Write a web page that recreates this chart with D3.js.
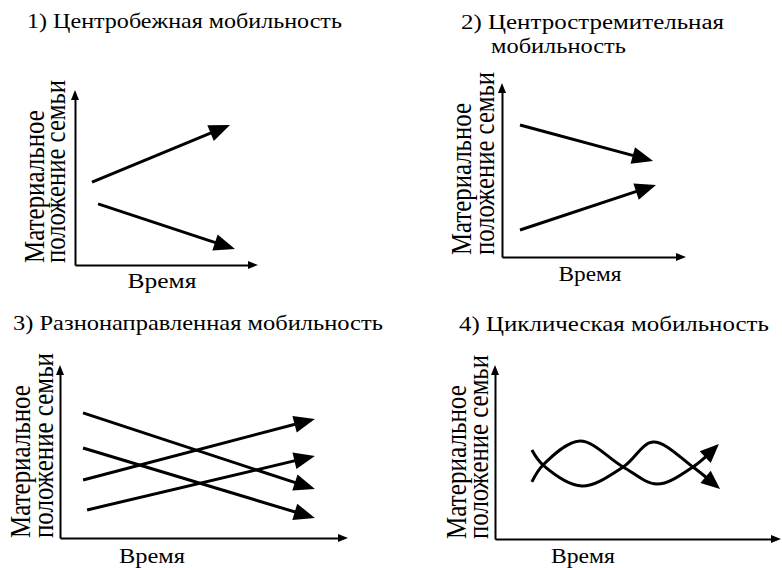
<!DOCTYPE html>
<html><head><meta charset="utf-8">
<script src="https://cdn.jsdelivr.net/npm/d3@7"></script>
<style>body{margin:0;background:#fff}</style>
</head><body>
<svg id="c" width="782" height="568" style="display:block"></svg>
<script>
// ---------- data ----------
const titleLines1 = ["1) Центробежная мобильность"];
const titleLines2 = ["2) Центростремительная", "мобильность"];
const titleLines3 = ["3) Разнонаправленная мобильность"];
const titleLines4 = ["4) Циклическая мобильность"];
const yLabelLines = ["Материальное", "положение семьи"];
const xLabelText = "Время";

// arrows: start/end values in axis units (0..10)
const centrifugal = [
  {x:[0.93, 8.47], y:[4.74, 8.00]},
  {x:[1.26, 8.74], y:[3.49, 0.91]}
];
const centripetal = [
  {x:[0.98, 8.21], y:[7.59, 5.52]},
  {x:[0.98, 8.37], y:[1.55, 4.14]}
];
const multidirectional = [
  {x:[0.80, 8.85], y:[7.23, 2.83]},
  {x:[0.80, 8.85], y:[5.20, 1.16]},
  {x:[0.80, 8.85], y:[3.35, 6.88]},
  {x:[0.94, 8.85], y:[1.62, 4.74]}
];
const cyclicA = {x:[1.29, 1.68, 2.97, 4.48, 5.66, 6.92, 7.83], y:[3.28, 4.25, 5.63, 4.14, 3.16, 4.14, 5.46]};
const cyclicB = {x:[1.29, 1.68, 3.04, 4.48, 5.52, 6.92, 7.87], y:[5.11, 4.25, 3.05, 4.14, 5.57, 4.14, 2.87]};

// ---------- layout ----------
const panels = [
  {box:{x0:75, x1:258, y0:265, y1:90}, title:{lines:titleLines1, pos:[[27,28]], len:[315]},
   ylab:{x:[44,65], y:263, len:[153,183]}, xlab:{x:162, y:288, len:69},
   arrows:centrifugal, curves:[], head:{L:21, W:17}},
  {box:{x0:502, x1:686, y0:257, y1:83}, title:{lines:titleLines2, pos:[[461,29],[491,53]], len:[263,135]},
   ylab:{x:[471,494], y:255, len:[152,183]}, xlab:{x:590, y:281, len:63},
   arrows:centripetal, curves:[], head:{L:21, W:17}},
  {box:{x0:60, x1:348, y0:538, y1:365}, title:{lines:titleLines3, pos:[[13,330]], len:[370]},
   ylab:{x:[30,53], y:538, len:[153,185]}, xlab:{x:152, y:563, len:66},
   arrows:multidirectional, curves:[], head:{L:21, W:17}},
  {box:{x0:495, x1:781, y0:539, y1:365}, title:{lines:titleLines4, pos:[[459,331]], len:[310]},
   ylab:{x:[466,488], y:539, len:[154,184]}, xlab:{x:583, y:563, len:64},
   arrows:[], curves:[cyclicA, cyclicB], head:{L:19, W:16}}
];

const svg = d3.select("#c");

function head(g, tip, dir, L, W){
  const ux = dir[0], uy = dir[1];
  const nx = -uy, ny = ux;
  const bx = tip[0] - ux*L, by = tip[1] - uy*L;
  g.append("path")
    .attr("d", `M${tip[0]},${tip[1]}L${bx + nx*W/2},${by + ny*W/2}L${bx - nx*W/2},${by - ny*W/2}Z`)
    .attr("fill", "#000");
}

// text placed at (x,y) with optional rotation, scaled along its direction to a target length
function fitText(g, str, x, y, size, target, rot){
  const t = g.append("text")
    .style("font-family", '"Liberation Serif"')
    .attr("font-size", size)
    .attr("fill", "#000")
    .text(str);
  const w = t.node().getComputedTextLength();
  const k = w > 0 ? target / w : 1;
  t.attr("transform", `translate(${x},${y})${rot ? " rotate(" + rot + ")" : ""} scale(${k},1)`);
  return t;
}

panels.forEach(p => {
  const g = svg.append("g");
  const b = p.box;
  const x = d3.scaleLinear().domain([0,10]).range([b.x0, b.x1]);
  const y = d3.scaleLinear().domain([0,10]).range([b.y0, b.y1]);
  const axL = 10, axW = 8;

  // titles
  p.title.lines.forEach((t,i) => fitText(g, t, p.title.pos[i][0], p.title.pos[i][1], 20, p.title.len[i], 0));

  // y label (rotated, two lines)
  yLabelLines.forEach((t,i) => fitText(g, t, p.ylab.x[i], p.ylab.y, 29, p.ylab.len[i], -90));

  // x label
  fitText(g, xLabelText, p.xlab.x - p.xlab.len/2, p.xlab.y, 20, p.xlab.len, 0);

  // axes (d3 axis generators, no ticks)
  const xa = x.copy().range([b.x0, b.x1 - 5]);
  const ya = y.copy().range([b.y0, b.y1 + 5]);
  g.append("g").attr("transform", `translate(0,${b.y0})`)
    .call(d3.axisBottom(xa).tickValues([]).tickSizeOuter(0));
  g.append("g").attr("transform", `translate(${b.x0},0)`)
    .call(d3.axisLeft(ya).tickValues([]).tickSizeOuter(0));
  g.selectAll(".domain").attr("stroke", "#000").attr("stroke-width", 2);
  head(g, [x(10), y(0)], [1,0], axL, axW);
  head(g, [x(0), y(10)], [0,-1], axL, axW);

  // straight arrows
  p.arrows.forEach(a => {
    const s = [x(a.x[0]), y(a.y[0])], t = [x(a.x[1]), y(a.y[1])];
    const dx = t[0]-s[0], dy = t[1]-s[1], len = Math.hypot(dx,dy);
    const u = [dx/len, dy/len];
    const e = [t[0] - u[0]*p.head.L*0.6, t[1] - u[1]*p.head.L*0.6];
    g.append("path").attr("d", d3.line()([s, e]))
      .attr("stroke", "#000").attr("stroke-width", 3).attr("fill", "none");
    head(g, t, u, p.head.L, p.head.W);
  });

  // curves
  const lineGen = d3.line().x(d => x(d[0])).y(d => y(d[1])).curve(d3.curveCatmullRom.alpha(0.5));
  p.curves.forEach(c => {
    const pts = c.x.map((v,i) => [v, c.y[i]]);
    const path = g.append("path").attr("d", lineGen(pts))
      .attr("stroke", "#000").attr("stroke-width", 3).attr("fill", "none");
    const node = path.node();
    const tl = node.getTotalLength();
    path.attr("stroke-dasharray", `${tl - p.head.L*0.6} ${tl}`);
    const tip = node.getPointAtLength(tl);
    const base = node.getPointAtLength(tl - p.head.L);
    const dx = tip.x - base.x, dy = tip.y - base.y, l = Math.hypot(dx,dy);
    head(g, [tip.x, tip.y], [dx/l, dy/l], p.head.L, p.head.W);
  });
});
</script>
</body></html>
